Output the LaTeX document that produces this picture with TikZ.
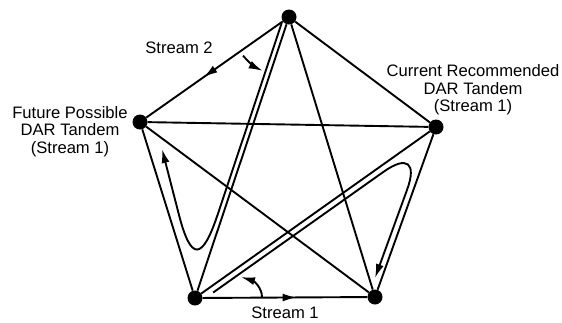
\documentclass[tikz,border=0pt]{standalone}
\usepackage{fontspec}
\setmainfont{Liberation Sans}
\usetikzlibrary{arrows.meta,decorations.markings}

\begin{document}
\begin{tikzpicture}[x=1pt,y=-1pt,
  vertex/.style={circle,fill=black,inner sep=0pt,minimum size=15pt},
  link/.style={line width=1.9pt},
  route/.style={line width=1.9pt},
  tipend/.style={-{Latex[length=14pt,width=8pt]}},
  lbl/.style={font=\fontsize{16.6}{17.3}\selectfont,inner sep=0pt,align=center},
  midarrow/.style={postaction={decorate},
    decoration={markings,mark=at position #1 with {\arrow{Latex[length=14pt,width=8pt]}}}},
]
\useasboundingbox (0,0) rectangle (562,322);

% switching nodes
\node[vertex] (T)  at (289,17)  {};
\node[vertex] (L)  at (140,122) {};
\node[vertex] (R)  at (436,127) {};
\node[vertex] (BL) at (195,298) {};
\node[vertex] (BR) at (375,297) {};

% full mesh of trunk groups
\draw[link] (T) -- (R);
\draw[link] (T) -- (BL);
\draw[link] (T) -- (BR);
\draw[link] (L) -- (R);
\draw[link] (L) -- (BR);
\draw[link] (L) -- (BL);
\draw[link] (R) -- (BL);
\draw[link] (R) -- (BR);
\draw[link,midarrow=0.58] (T) -- (L);
\draw[link,midarrow=0.57] (BL) -- (BR);

% alternate route via the left tandem
\coordinate (a0) at (281.7,23);
\coordinate (a1) at (217.5,215);
\coordinate (a2) at (179,215);
\coordinate (a3) at (162,149);
\draw[route,tipend] (a0) -- (a1) .. controls (202.3,260.5) and (191,261.6) .. (a2) -- (a3);

% alternate route via the right tandem
\coordinate (b0) at (213.2,292.5);
\coordinate (b1) at (383.5,171.85);
\coordinate (b2) at (407,189.95);
\coordinate (b3) at (375,278);
\draw[route,tipend] (b0) -- (b1) .. controls (407,155.1) and (417,162.7) .. (b2) -- (b3);

% rotation arrows
\coordinate (c0) at (243,55.6);
\coordinate (c1) at (262.7,70.9);
\draw[route,tipend] (c0) .. controls (248.4,62) and (255.1,67.2) .. (c1);
\coordinate (d0) at (262,297);
\coordinate (d1) at (241,277);
\draw[route,tipend] (d0) .. controls (262,288) and (254,281) .. (d1);

% labels
\node[lbl,anchor=base]  (s2) at (179,53.3) {Stream 2};
\node[lbl,anchor=north] (fp) at (70,106.3) {Future Possible\\DAR Tandem\\(Stream 1)};
\node[lbl,anchor=north] (cr) at (473,64.7) {Current Recommended\\DAR Tandem\\(Stream 1)};
\node[lbl,anchor=base]  (s1) at (285,318.5) {Stream 1};
\end{tikzpicture}
\end{document}
